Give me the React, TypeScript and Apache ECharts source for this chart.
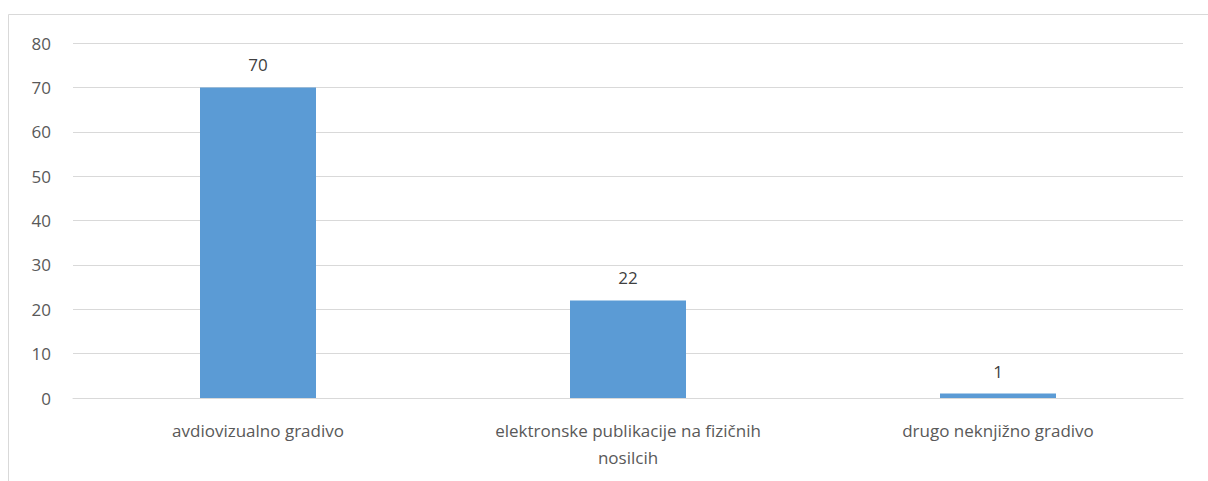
import React, { useEffect, useRef } from "react";
import * as echarts from "echarts";

const categories = [
  "avdiovizualno gradivo",
  "elektronske publikacije na fizičnih nosilcih",
  "drugo neknjižno gradivo",
];
const tickLabels = [
  "avdiovizualno gradivo",
  "elektronske publikacije na fizičnih\nnosilcih",
  "drugo neknjižno gradivo",
];
const values = [70, 22, 1];
const yTicks = { min: 0, max: 80, interval: 10 };

export default function App() {
  const ref = useRef<HTMLDivElement>(null);
  useEffect(() => {
    if (!ref.current) return;
    const chart = echarts.init(ref.current, undefined, { renderer: "svg" });
    chart.setOption({
      animation: false,
      backgroundColor: "#ffffff",
      textStyle: { fontFamily: "Open Sans" },
      graphic: [
        {
          type: "rect",
          shape: { x: 8.5, y: 14.5, width: 1300, height: 600 },
          style: { fill: "none", stroke: "#d9d9d9", lineWidth: 1 },
          silent: true,
        },
      ],
      grid: { left: 73, right: 25, top: 43, bottom: 83, containLabel: false },
      xAxis: {
        type: "category",
        data: categories,
        axisTick: { show: false },
        axisLine: { show: true, lineStyle: { color: "#d9d9d9", width: 1 } },
        axisLabel: {
          interval: 0,
          margin: 19,
          color: "#595959",
          fontSize: 17,
          lineHeight: 27,
          fontFamily: "Open Sans",
          formatter: (_v: string, i: number) => tickLabels[i],
        },
      },
      yAxis: {
        type: "value",
        min: yTicks.min,
        max: yTicks.max,
        interval: yTicks.interval,
        axisLine: { show: false },
        axisTick: { show: false },
        splitLine: { lineStyle: { color: "#d9d9d9", width: 1 } },
        axisLabel: {
          margin: 22,
          color: "#595959",
          fontSize: 17,
          fontFamily: "Open Sans",
        },
      },
      series: [
        {
          type: "bar",
          data: values,
          barWidth: 116,
          itemStyle: { color: "#5B9BD5" },
          label: {
            show: true,
            position: "top",
            distance: 14,
            color: "#404040",
            fontSize: 17,
            fontFamily: "Open Sans",
          },
        },
      ],
    });
    return () => chart.dispose();
  }, []);
  return (
    <div
      ref={ref}
      style={{ position: "absolute", left: 0, top: 0, width: 1208, height: 481 }}
    />
  );
}
